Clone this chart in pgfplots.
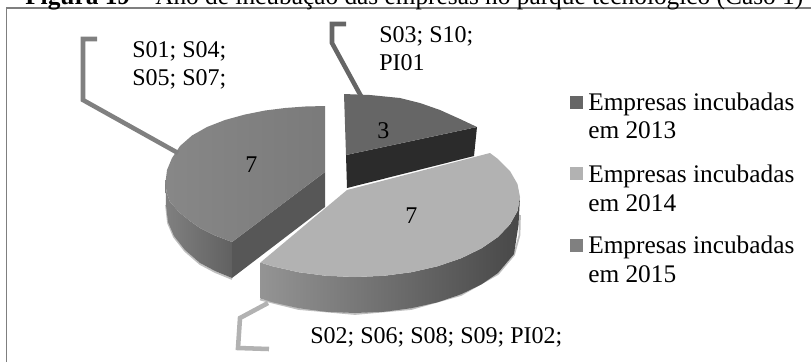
\documentclass[border=0pt]{standalone}
\usepackage{pgfplots}
\pgfplotsset{compat=1.18}
\usepackage{fontspec}
\setmainfont{Liberation Serif}
\definecolor{c13}{HTML}{666666}
\definecolor{c13side}{HTML}{2B2B2B}
\definecolor{c14}{HTML}{B2B2B2}
\definecolor{c15}{HTML}{808080}
\definecolor{frame}{HTML}{7F7F7F}
\begin{document}
\begin{tikzpicture}[x=1pt,y=1pt]
\path[use as bounding box] (0,0) rectangle (608.25pt,-271.5pt);
\begin{axis}[
  x=0.75pt, y=-0.75pt,
  scale only axis,
  at={(0,0)}, anchor=north west,
  xmin=0, xmax=811, ymin=0, ymax=362,
  hide axis,
  clip=true,
  every axis plot/.append style={forget plot},
]
% frame of the chart area
\addplot[frame, line width=1.3pt] coordinates {(6.5,362) (6.5,8) (811,8)};

% soft edge under the slices
\addplot[draw=black!25, line width=1.3pt] coordinates {(260,299.5) (298.6,309) (355,314) (411.4,309) (461,295) (498,274) (514,255) (519.5,235) (520,215)};
\addplot[draw=black!25, line width=1.3pt] coordinates {(166,205) (168,223) (174,237) (185,251) (200,264) (215,272) (232,279)};

% 2015 slice: rim, cut face, top
\addplot[draw=none, left color=c15, right color=black!62] coordinates {
  (165.5,182) (166.5,192) (170,202) (180,213) (190,221) (200,228) (215,235.5) (232,242)
  (232,278) (215,271) (200,263) (185,250) (174,236) (168,222) (166,205)} -- cycle;
\addplot[draw=none, fill=black!66] coordinates {(232,242) (232,278) (325,207) (325,172)} -- cycle;
\addplot[draw=none, left color=black!47, right color=black!52] coordinates {
  (325,106) (305,106.5) (285,108) (265,110.5) (245,114.5) (225,120) (207,127) (192,135.5)
  (180,146) (172,158) (167,170) (165.5,182) (166.5,192) (170,202) (180,213) (190,221)
  (200,228) (215,235.5) (232,242) (325,172)} -- cycle;

% 2013 slice: cut face, top
\addplot[draw=none, fill=c13side] coordinates {(346,155) (477,127) (474,156) (347,188)} -- cycle;
\addplot[draw=none, fill=c13] coordinates {
  (344,94) (370,95) (400,98) (420,103) (440,110) (460,119) (477,127) (346,155)} -- cycle;

% 2014 slice: rim, top
\addplot[draw=none, left color=black!42, middle color=black!68, right color=black!72] coordinates {
  (260.4,262.5) (272.5,266.3) (298.6,272.2) (326.3,275.8) (355,277) (383.7,275.8) (411.4,272.2)
  (437.5,266.3) (461,258.3) (481.4,248.4) (498,237) (510,224.4) (517.5,211) (520,197)
  (518.5,225) (514,254) (498,273) (481.4,284.4) (461,294.3) (437.5,302.3) (411.4,308.2)
  (383.7,311.8) (355,313) (326.3,311.8) (298.6,308.2) (272.5,302.3) (260.4,298.5)} -- cycle;
\addplot[draw=none, fill=c14] coordinates {
  (347,190) (490,153) (498,159) (510,171) (517.5,184) (520,197) (517.5,211) (510,224.4)
  (498,237) (481.4,248.4) (461,258.3) (437.5,266.3) (411.4,272.2) (383.7,275.8) (355,277)
  (326.3,275.8) (298.6,272.2) (272.5,266.3) (260.4,262.5)} -- cycle;

% leader lines
\addplot[c15, line width=3.4pt, line join=miter] coordinates {(97,39) (83,39) (83,100) (178,153)};
\addplot[c13, line width=3.4pt, line join=miter] coordinates {(346,24) (332,24) (332,43) (362,98)};
\addplot[c14, line width=3.4pt, line join=miter] coordinates {(268,303) (240,318) (238,348) (269,349)};

% legend keys
\addplot[draw=none, fill=c13] coordinates {(570,96) (583,96) (583,109) (570,109)} -- cycle;
\addplot[draw=none, fill=c14] coordinates {(570,167) (583,167) (583,180) (570,180)} -- cycle;
\addplot[draw=none, fill=c15] coordinates {(570,239) (583,239) (583,252) (570,252)} -- cycle;

\end{axis}
% text is set in the same pixel grid as the axis
\begin{scope}[x=0.75pt,y=-0.75pt,every node/.style={anchor=base west,inner sep=0pt,font=\fontsize{18pt}{20pt}\selectfont}]
\clip (0,0) rectangle (811,362);
\node at (132,57) {S01; S04;};
\node at (132,85) {S05; S07;};
\node at (379,42) {S03; S10;};
\node at (379,70) {PI01};
\node at (310,343) {S02; S06; S08; S09; PI02;};
\node at (245,172) {7};
\node at (377,138) {3};
\node at (405,223) {7};
\begin{scope}[every node/.append style={font=\fontsize{19pt}{20pt}\selectfont}]
\node at (25,4) {\textbf{Figura 19}};
\node at (134,4) {–};
\node at (155,4) {Ano de incubação das empresas no parque tecnológico (Caso 1)};
\node at (588,110) {Empresas incubadas};
\node at (588,138) {em 2013};
\node at (588,182) {Empresas incubadas};
\node at (588,211) {em 2014};
\node at (588,253) {Empresas incubadas};
\node at (588,282) {em 2015};
\end{scope}
\end{scope}
\end{tikzpicture}
\end{document}
